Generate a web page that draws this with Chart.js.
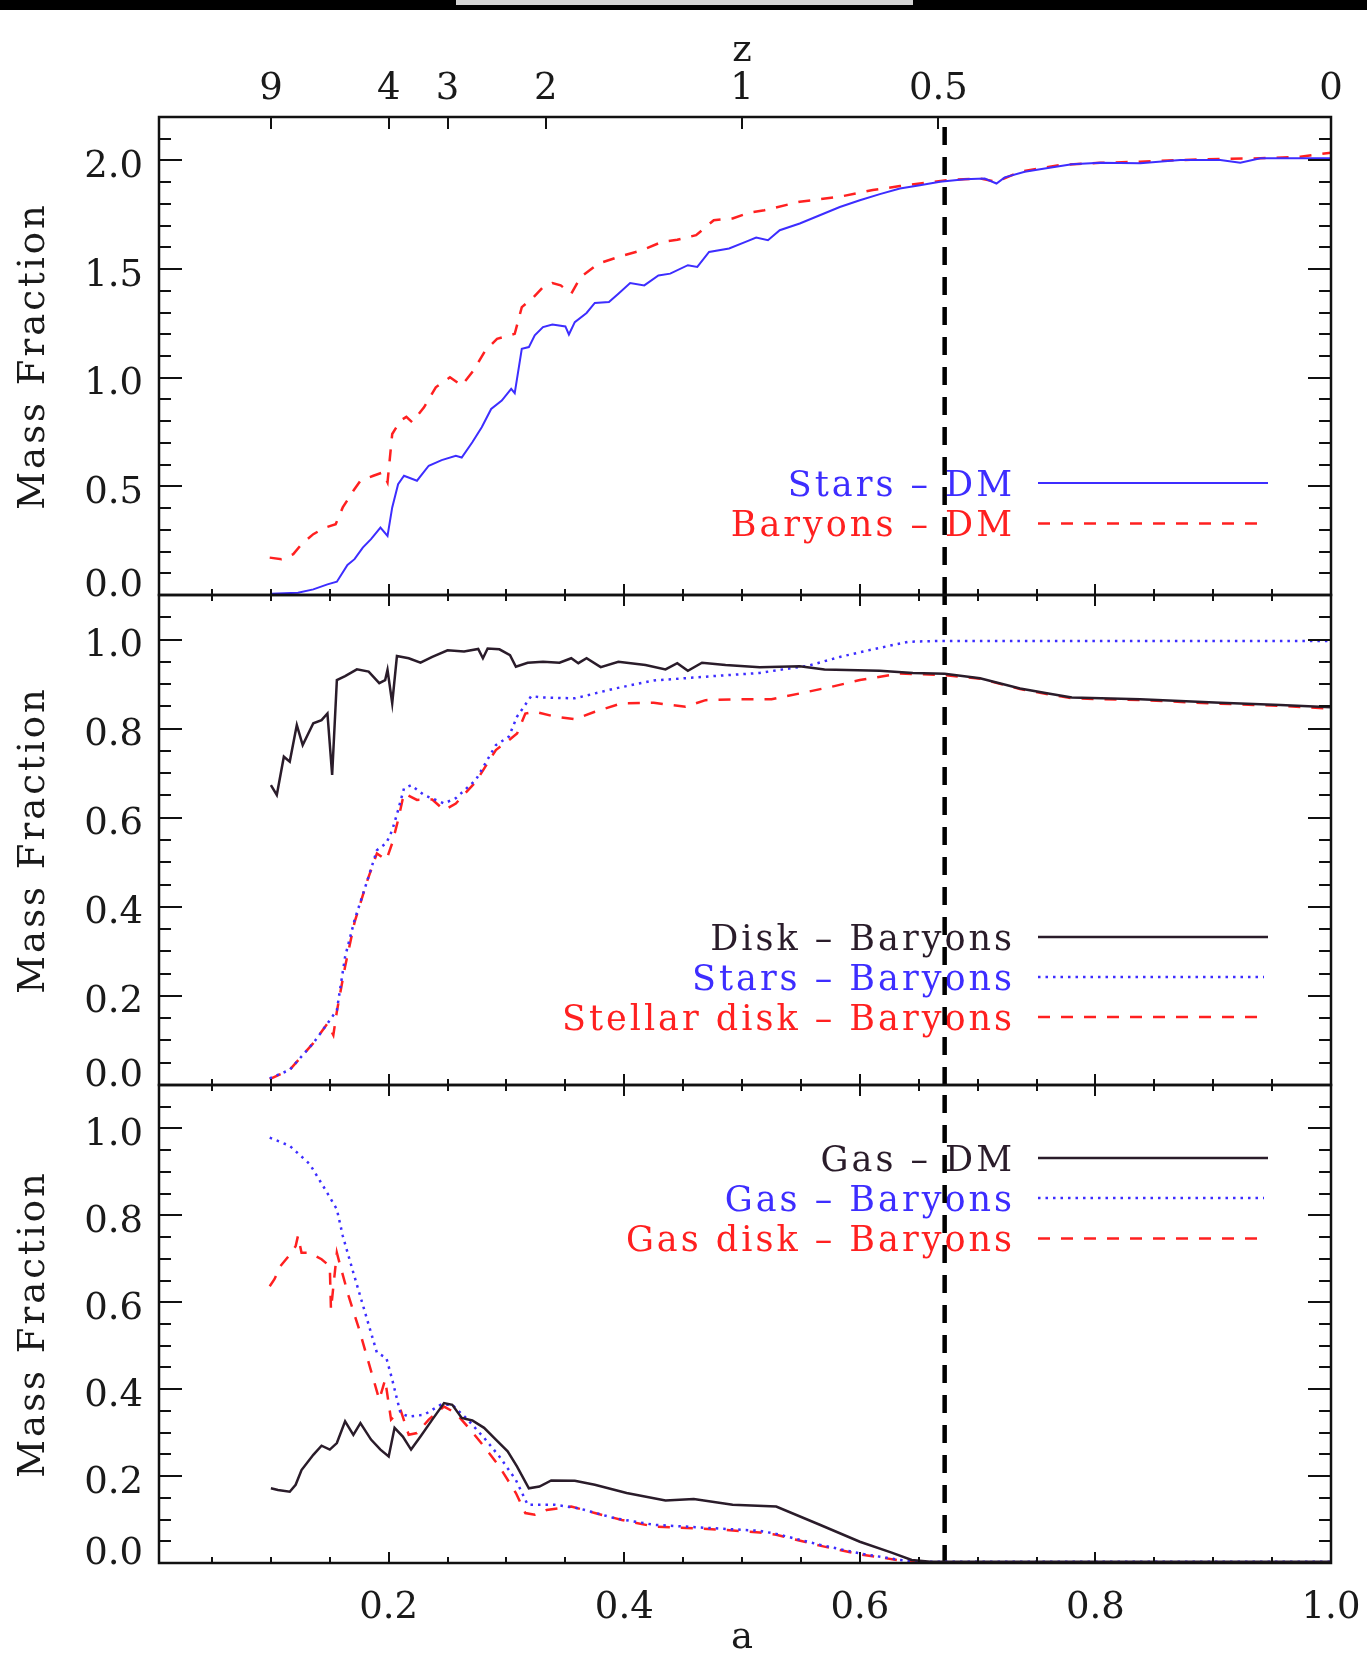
<!DOCTYPE html>
<html>
<head>
<meta charset="utf-8">
<script src="https://cdn.jsdelivr.net/npm/chart.js@4.4.1/dist/chart.umd.min.js"></script>
<style>
  html,body{margin:0;padding:0;background:#fff;}
  body{width:1367px;height:1661px;overflow:hidden;position:relative;}
  canvas{position:absolute;left:0;top:0;}
  #bar{position:absolute;left:0;top:0;width:1367px;height:10px;background:#000;}
  #grey{position:absolute;left:456px;top:0;width:457px;height:5px;background:#d4d4d4;}
</style>
</head>
<body>
<canvas id="p1" width="1367" height="1661"></canvas>
<canvas id="p2" width="1367" height="1661"></canvas>
<canvas id="p3" width="1367" height="1661"></canvas>
<div id="bar"></div><div id="grey"></div>
<script>
// ---------------- DATA (a = expansion factor, value = mass fraction) ----------------
const aMin = 0.005, aMax = 1.0;
const zMarkA = 0.672;                       // vertical dashed marker
const zTicks = [9, 4, 3, 2, 1, 0.5, 0];     // redshift ticks on top axis
const zTickLabels = ['9', '4', '3', '2', '1', '0.5', '0'];
const xTickVals = [0.2, 0.4, 0.6, 0.8, 1.0];
const xTickLabels = ['0.2', '0.4', '0.6', '0.8', '1.0'];
const yTickVals1 = [0, 0.5, 1.0, 1.5, 2.0];
const yTickLabels1 = ['0.0', '0.5', '1.0', '1.5', '2.0'];
const yTickVals23 = [0, 0.2, 0.4, 0.6, 0.8, 1.0];
const yTickLabels23 = ['0.0', '0.2', '0.4', '0.6', '0.8', '1.0'];

// Panel 1
const starsDM = [[0.1,0.006],[0.123,0.01],[0.136,0.026],[0.148,0.049],[0.156,0.061],[0.165,0.138],[0.171,0.165],[0.178,0.218],[0.185,0.257],[0.193,0.31],[0.199,0.272],[0.203,0.403],[0.208,0.51],[0.213,0.549],[0.224,0.526],[0.234,0.595],[0.245,0.621],[0.257,0.641],[0.262,0.633],[0.271,0.703],[0.279,0.772],[0.287,0.856],[0.296,0.895],[0.304,0.949],[0.307,0.929],[0.313,1.133],[0.319,1.141],[0.324,1.195],[0.331,1.233],[0.339,1.245],[0.35,1.236],[0.353,1.199],[0.358,1.256],[0.368,1.298],[0.375,1.344],[0.387,1.348],[0.395,1.387],[0.405,1.436],[0.417,1.425],[0.429,1.471],[0.439,1.479],[0.454,1.518],[0.462,1.51],[0.472,1.579],[0.489,1.595],[0.503,1.625],[0.512,1.645],[0.522,1.633],[0.532,1.679],[0.549,1.71],[0.566,1.748],[0.583,1.786],[0.6,1.817],[0.617,1.845],[0.634,1.871],[0.651,1.886],[0.668,1.902],[0.689,1.913],[0.706,1.917],[0.716,1.894],[0.723,1.922],[0.74,1.948],[0.757,1.963],[0.78,1.983],[0.804,1.989],[0.838,1.987],[0.872,2.002],[0.906,2.002],[0.923,1.99],[0.94,2.01],[0.974,2.01],[1.0,2.01]];
const baryonsDM = [[0.099,0.172],[0.109,0.165],[0.119,0.188],[0.126,0.234],[0.136,0.28],[0.146,0.31],[0.155,0.326],[0.161,0.403],[0.17,0.48],[0.176,0.526],[0.187,0.549],[0.195,0.564],[0.199,0.518],[0.203,0.741],[0.21,0.803],[0.215,0.82],[0.22,0.795],[0.23,0.864],[0.24,0.956],[0.252,1.002],[0.262,0.964],[0.272,1.033],[0.282,1.125],[0.292,1.179],[0.307,1.202],[0.313,1.325],[0.323,1.371],[0.331,1.417],[0.339,1.436],[0.346,1.425],[0.355,1.387],[0.363,1.464],[0.378,1.525],[0.395,1.556],[0.415,1.587],[0.432,1.625],[0.445,1.635],[0.461,1.656],[0.476,1.725],[0.492,1.733],[0.505,1.758],[0.519,1.771],[0.549,1.81],[0.583,1.833],[0.611,1.864],[0.634,1.882],[0.655,1.897],[0.675,1.91],[0.702,1.917],[0.716,1.902],[0.736,1.948],[0.77,1.979],[0.804,1.989],[0.838,1.994],[0.872,2.002],[0.906,2.007],[0.94,2.01],[0.974,2.017],[1.0,2.036]];

// Panel 2
const diskBaryons = [[0.1,0.673],[0.105,0.651],[0.111,0.737],[0.116,0.726],[0.122,0.808],[0.127,0.763],[0.136,0.812],[0.143,0.819],[0.148,0.834],[0.152,0.696],[0.156,0.909],[0.163,0.918],[0.173,0.933],[0.183,0.928],[0.192,0.902],[0.197,0.909],[0.199,0.932],[0.203,0.857],[0.207,0.963],[0.217,0.958],[0.227,0.948],[0.237,0.961],[0.25,0.976],[0.264,0.973],[0.276,0.979],[0.28,0.958],[0.284,0.98],[0.294,0.978],[0.303,0.965],[0.308,0.939],[0.318,0.948],[0.331,0.95],[0.345,0.948],[0.355,0.958],[0.361,0.947],[0.368,0.958],[0.38,0.938],[0.395,0.95],[0.418,0.943],[0.435,0.933],[0.445,0.947],[0.454,0.93],[0.466,0.948],[0.486,0.943],[0.515,0.938],[0.549,0.94],[0.57,0.933],[0.617,0.93],[0.645,0.925],[0.672,0.923],[0.702,0.913],[0.736,0.89],[0.76,0.879],[0.78,0.87],[0.838,0.866],[0.906,0.858],[0.957,0.853],[1.0,0.848]];
const starsBaryons = [[0.099,0.015],[0.116,0.034],[0.136,0.094],[0.148,0.138],[0.156,0.168],[0.163,0.288],[0.171,0.37],[0.182,0.46],[0.19,0.527],[0.198,0.543],[0.203,0.572],[0.208,0.617],[0.213,0.666],[0.219,0.673],[0.23,0.651],[0.247,0.632],[0.257,0.644],[0.274,0.685],[0.291,0.763],[0.302,0.782],[0.309,0.827],[0.321,0.873],[0.331,0.87],[0.358,0.868],[0.392,0.89],[0.425,0.908],[0.476,0.918],[0.515,0.925],[0.532,0.932],[0.556,0.941],[0.583,0.961],[0.611,0.978],[0.641,0.995],[0.668,0.997],[1.0,0.997]];
const stellarDiskBaryons = [[0.099,0.013],[0.116,0.034],[0.136,0.094],[0.148,0.138],[0.153,0.112],[0.156,0.165],[0.163,0.266],[0.171,0.365],[0.182,0.46],[0.19,0.52],[0.198,0.505],[0.203,0.543],[0.208,0.595],[0.213,0.655],[0.224,0.64],[0.237,0.641],[0.247,0.617],[0.257,0.632],[0.274,0.681],[0.291,0.752],[0.302,0.774],[0.309,0.789],[0.316,0.834],[0.324,0.838],[0.341,0.827],[0.358,0.821],[0.375,0.838],[0.398,0.857],[0.425,0.858],[0.452,0.849],[0.469,0.864],[0.498,0.866],[0.525,0.866],[0.549,0.879],[0.576,0.894],[0.6,0.909],[0.634,0.924],[0.672,0.92],[0.702,0.912],[0.736,0.889],[0.76,0.877],[0.78,0.868],[0.838,0.864],[0.906,0.856],[0.957,0.851],[1.0,0.845]];

// Panel 3
const gasDM = [[0.1,0.172],[0.106,0.168],[0.116,0.164],[0.121,0.18],[0.126,0.214],[0.136,0.249],[0.143,0.27],[0.15,0.261],[0.156,0.276],[0.163,0.326],[0.17,0.295],[0.176,0.322],[0.185,0.284],[0.193,0.261],[0.2,0.245],[0.205,0.311],[0.212,0.291],[0.219,0.261],[0.227,0.291],[0.237,0.33],[0.247,0.368],[0.254,0.364],[0.262,0.334],[0.271,0.328],[0.281,0.311],[0.291,0.284],[0.301,0.257],[0.309,0.222],[0.319,0.172],[0.328,0.176],[0.338,0.19],[0.358,0.189],[0.375,0.18],[0.402,0.161],[0.435,0.144],[0.459,0.147],[0.492,0.134],[0.529,0.13],[0.566,0.088],[0.6,0.049],[0.627,0.024],[0.644,0.007],[0.66,0.003],[1.0,0.003]];
const gasBaryons = [[0.099,0.979],[0.116,0.96],[0.133,0.918],[0.146,0.86],[0.156,0.814],[0.161,0.753],[0.17,0.668],[0.18,0.576],[0.19,0.484],[0.198,0.472],[0.203,0.422],[0.21,0.345],[0.217,0.337],[0.23,0.341],[0.244,0.364],[0.254,0.364],[0.267,0.33],[0.281,0.288],[0.294,0.245],[0.308,0.191],[0.318,0.134],[0.341,0.134],[0.361,0.126],[0.392,0.103],[0.425,0.088],[0.476,0.08],[0.515,0.074],[0.529,0.067],[0.566,0.042],[0.6,0.022],[0.634,0.007],[0.65,0.003],[1.0,0.003]];
const gasDiskBaryons = [[0.099,0.637],[0.103,0.653],[0.108,0.683],[0.115,0.706],[0.121,0.729],[0.123,0.753],[0.126,0.714],[0.133,0.714],[0.143,0.699],[0.15,0.683],[0.151,0.583],[0.156,0.714],[0.159,0.683],[0.166,0.614],[0.175,0.537],[0.183,0.461],[0.192,0.376],[0.197,0.422],[0.202,0.33],[0.21,0.353],[0.217,0.295],[0.224,0.299],[0.234,0.33],[0.247,0.36],[0.257,0.345],[0.267,0.314],[0.281,0.268],[0.294,0.222],[0.308,0.161],[0.316,0.115],[0.324,0.111],[0.334,0.122],[0.355,0.13],[0.375,0.115],[0.398,0.099],[0.425,0.084],[0.459,0.08],[0.486,0.076],[0.515,0.07],[0.529,0.065],[0.566,0.04],[0.6,0.02],[0.634,0.006],[0.65,0.002],[1.0,0.002]];

// ---------------- STYLES ----------------
const BLUE = '#3d2dff', RED = '#ff2020', BLACK = '#2a1c2a';
const SERIF = '"DejaVu Serif", serif';
const styles = {
  blueSolid: {borderColor: BLUE, borderWidth: 2, borderDash: []},
  redDash:   {borderColor: RED, borderWidth: 2.5, borderDash: [12, 11]},
  blackSolid:{borderColor: BLACK, borderWidth: 2.5, borderDash: []},
  blueDot:   {borderColor: BLUE, borderWidth: 2.5, borderDash: [2.5, 5]}
};

function pts(arr){ return arr.map(p => ({x: p[0], y: p[1]})); }
function series(label, arr, st){
  return Object.assign({label, data: pts(arr), pointRadius: 0, tension: 0, fill: false}, st);
}
function marker(ymax){
  return {label: 'marker', data: [{x: zMarkA, y: 0}, {x: zMarkA, y: ymax}], borderColor: '#000',
          borderWidth: 4.5, borderDash: [18, 12], pointRadius: 0, fill: false};
}

function baseline(cy, size){ return cy + 0.3645 * size; }

function makePlugin(cfg){
  return {
    id: 'idl_' + cfg.id,
    beforeDatasetsDraw(chart){
      const ctx = chart.ctx;
      ctx.save();
      const size = 35;
      ctx.font = size + 'px ' + SERIF;
      ctx.letterSpacing = '3px';
      ctx.textAlign = 'right';
      cfg.legend.forEach(e => {
        ctx.fillStyle = e.color;
        ctx.fillText(e.text, 1015, baseline(e.y, size));
        ctx.strokeStyle = e.style.borderColor;
        ctx.lineWidth = e.style.borderWidth;
        ctx.setLineDash(e.style.borderDash);
        ctx.beginPath();
        ctx.moveTo(1038, e.y);
        ctx.lineTo(e.end, e.y);
        ctx.stroke();
      });
      ctx.restore();
    },
    afterDatasetsDraw(chart){
      const ctx = chart.ctx, xs = chart.scales.x, ys = chart.scales.y, ca = chart.chartArea;
      ctx.save();
      ctx.setLineDash([]);
      ctx.strokeStyle = '#111';
      ctx.lineWidth = 2;
      ctx.beginPath();
      // y ticks (left and right, inward)
      const n = Math.round(cfg.ymax / cfg.yMinor);
      for (let i = 1; i < n; i++) {
        const v = i * cfg.yMinor;
        const r = v / cfg.yMajor;
        const major = Math.abs(r - Math.round(r)) < 1e-6;
        const L = major ? 23 : 12;
        const y = Math.round(ys.getPixelForValue(v));
        ctx.moveTo(ca.left, y); ctx.lineTo(ca.left + L, y);
        ctx.moveTo(ca.right, y); ctx.lineTo(ca.right - L, y);
      }
      // x ticks every 0.05
      for (let i = 1; i < 20; i++) {
        const v = i * 0.05;
        const major = (i % 4 === 0);
        const L = major ? 11 : 6;
        const x = Math.round(xs.getPixelForValue(v));
        ctx.moveTo(x, ca.bottom); ctx.lineTo(x, ca.bottom - L);
        if (!cfg.zTop) { ctx.moveTo(x, ca.top); ctx.lineTo(x, ca.top + L); }
      }
      if (cfg.zTop) {
        zTicks.forEach(z => {
          const x = Math.round(xs.getPixelForValue(1 / (1 + z)));
          ctx.moveTo(x, ca.top); ctx.lineTo(x, ca.top + 12);
        });
      }
      ctx.stroke();
      // frame
      ctx.lineWidth = 2.5;
      ctx.strokeRect(ca.left, ca.top, ca.right - ca.left, ca.bottom - ca.top);

      // labels
      const fs = 37;
      ctx.font = fs + 'px ' + SERIF;
      ctx.fillStyle = '#1a1a1a';
      ctx.letterSpacing = '0px';
      ctx.textAlign = 'right';
      cfg.yVals.forEach((v, i) => {
        const cy = ys.getPixelForValue(v) + (v === 0 ? -12 : 3);
        ctx.fillText(cfg.yLabels[i], 143, baseline(cy, fs));
      });
      ctx.textAlign = 'center';
      if (cfg.zTop) {
        zTicks.forEach((z, i) => {
          const x = xs.getPixelForValue(1 / (1 + z));
          ctx.fillText(zTickLabels[i], x, baseline(86, fs));
        });
        ctx.fillText('z', (ca.left + ca.right) / 2 - 3, 61);
      }
      if (cfg.xLabels) {
        xTickVals.forEach((v, i) => {
          ctx.fillText(xTickLabels[i], xs.getPixelForValue(v), baseline(1605, fs));
        });
        ctx.fillText('a', (ca.left + ca.right) / 2 - 3, 1648);
      }
      // y title
      ctx.save();
      ctx.translate(44, (ca.top + ca.bottom) / 2);
      ctx.rotate(-Math.PI / 2);
      ctx.letterSpacing = '3px';
      ctx.fillText('Mass Fraction', 0, 0);
      ctx.restore();
      ctx.restore();
    }
  };
}

function makeChart(cfg){
  return new Chart(document.getElementById(cfg.id), {
    type: 'line',
    data: {datasets: cfg.datasets},
    options: {
      responsive: false,
      animation: false,
      events: [],
      devicePixelRatio: 1,
      layout: {padding: {left: 159, right: 36, top: cfg.top, bottom: 1661 - cfg.bottom}},
      scales: {
        x: {type: 'linear', min: aMin, max: aMax, display: false},
        y: {type: 'linear', min: 0, max: cfg.ymax, display: false}
      },
      plugins: {legend: {display: false}, tooltip: {enabled: false}},
      elements: {point: {radius: 0}, line: {tension: 0}}
    },
    plugins: [makePlugin(cfg)]
  });
}

makeChart({
  id: 'p1', top: 117, bottom: 595, ymax: 2.2, yMinor: 0.1, yMajor: 0.5,
  yVals: yTickVals1, yLabels: yTickLabels1, zTop: true, xLabels: false,
  datasets: [
    series('Stars - DM', starsDM, styles.blueSolid),
    series('Baryons - DM', baryonsDM, styles.redDash),
    marker(2.2)
  ],
  legend: [
    {text: 'Stars – DM', color: BLUE, style: styles.blueSolid, y: 483, end: 1268},
    {text: 'Baryons – DM', color: RED, style: styles.redDash, y: 523.5, end: 1258}
  ]
});
makeChart({
  id: 'p2', top: 595, bottom: 1085, ymax: 1.1, yMinor: 0.05, yMajor: 0.2,
  yVals: yTickVals23, yLabels: yTickLabels23, zTop: false, xLabels: false,
  datasets: [
    series('Disk - Baryons', diskBaryons, styles.blackSolid),
    series('Stars - Baryons', starsBaryons, styles.blueDot),
    series('Stellar disk - Baryons', stellarDiskBaryons, styles.redDash),
    marker(1.1)
  ],
  legend: [
    {text: 'Disk – Baryons', color: BLACK, style: styles.blackSolid, y: 937, end: 1268},
    {text: 'Stars – Baryons', color: BLUE, style: styles.blueDot, y: 977, end: 1264},
    {text: 'Stellar disk – Baryons', color: RED, style: styles.redDash, y: 1017, end: 1258}
  ]
});
makeChart({
  id: 'p3', top: 1085, bottom: 1563, ymax: 1.1, yMinor: 0.05, yMajor: 0.2,
  yVals: yTickVals23, yLabels: yTickLabels23, zTop: false, xLabels: true,
  datasets: [
    series('Gas - DM', gasDM, styles.blackSolid),
    series('Gas - Baryons', gasBaryons, styles.blueDot),
    series('Gas disk - Baryons', gasDiskBaryons, styles.redDash),
    marker(1.1)
  ],
  legend: [
    {text: 'Gas – DM', color: BLACK, style: styles.blackSolid, y: 1158, end: 1268},
    {text: 'Gas – Baryons', color: BLUE, style: styles.blueDot, y: 1198, end: 1264},
    {text: 'Gas disk – Baryons', color: RED, style: styles.redDash, y: 1238.5, end: 1258}
  ]
});
</script>
</body>
</html>
